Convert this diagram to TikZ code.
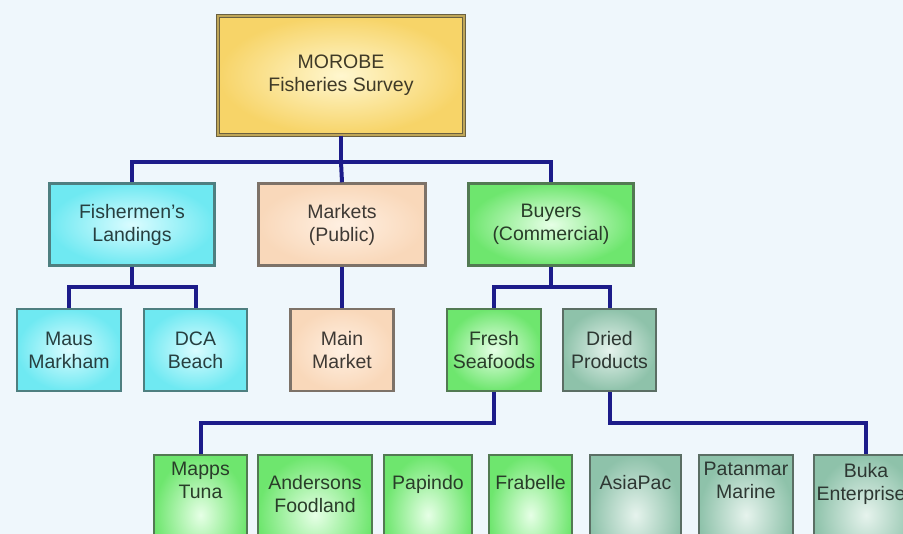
\documentclass[tikz,border=0pt]{standalone}
\usepackage{fontspec}
\setmainfont{Liberation Sans}
\usepackage{tikz}

\definecolor{bgcol}{HTML}{EFF7FC}
\definecolor{buscol}{HTML}{1C1C8A}
\definecolor{yelout}{HTML}{F7D468}
\definecolor{yelin}{HTML}{FFF7CF}
\definecolor{yelline}{HTML}{6A6040}
\definecolor{cyaout}{HTML}{6FE9F2}
\definecolor{cyain}{HTML}{DAFCFF}
\definecolor{cyaline}{HTML}{4E7F80}
\definecolor{peaout}{HTML}{F9D8BA}
\definecolor{peain}{HTML}{FFF0E2}
\definecolor{pealine}{HTML}{7D7268}
\definecolor{greout}{HTML}{6EE66E}
\definecolor{grein}{HTML}{E6FFE6}
\definecolor{greline}{HTML}{527A52}
\definecolor{gryout}{HTML}{8EC2AA}
\definecolor{gryin}{HTML}{E6F3ED}
\definecolor{gryline}{HTML}{5B6E64}

\begin{document}
\begin{tikzpicture}[x=1pt,y=-1pt,
    txt/.style={font=\fontsize{19.5}{23}\selectfont, align=center},
    box/.style={rectangle, txt, line width=2.5pt, inner sep=0pt},
    yelbox/.style={box, draw=yelline, double=yelout!60!yelline, double distance=1.5pt, line width=1.5pt,
        inner color=yelin, outer color=yelout, text=yelline!60!black},
    cyabox/.style={box, draw=cyaline, inner color=cyain, outer color=cyaout, text=cyaline!50!black},
    peabox/.style={box, draw=pealine, inner color=peain, outer color=peaout, text=pealine!50!black},
    grebox/.style={box, draw=greline, inner color=grein, outer color=greout, text=greline!50!black},
    grybox/.style={box, draw=gryline, inner color=gryin, outer color=gryout, text=gryline!50!black},
    lbl/.style={txt, inner sep=0pt, anchor=north},
    bus/.style={draw=buscol, line width=4pt}]

    % background
    \useasboundingbox (0,0) rectangle (903,534);
    \clip (0,0) rectangle (903,534);
    \fill[bgcol] (0,0) rectangle (903,534);

    % top
    \node[yelbox, minimum width=246, minimum height=119] (survey) at (341,75.5) {MOROBE\\Fisheries Survey};

    % level 2
    \node[cyabox, minimum width=165, minimum height=82] (fisher) at (132,224.5) {Fishermen's\\Landings};
    \node[peabox, minimum width=167, minimum height=82] (markets) at (342,224.5) {Markets\\(Public)};
    \node[grebox, minimum width=165, minimum height=82] (buyers) at (551,224.5) {Buyers\\(Commercial)};

    % level 3
    \node[cyabox, minimum width=104, minimum height=82] (maus) at (69,350) {Maus\\Markham};
    \node[cyabox, minimum width=103, minimum height=82] (dca) at (195.5,350) {DCA\\Beach};
    \node[peabox, minimum width=103, minimum height=82] (mainmkt) at (342,350) {Main\\Market};
    \node[grebox, minimum width=94, minimum height=82] (fresh) at (494,350) {Fresh\\Seafoods};
    \node[grybox, minimum width=93, minimum height=82] (dried) at (609.5,350) {Dried\\Products};

    % level 4
    \node[grebox, minimum width=93, minimum height=120] (mapps) at (200.5,515) {};
    \node[grebox, minimum width=114, minimum height=120] (anders) at (315,515) {};
    \node[grebox, minimum width=88, minimum height=120] (papindo) at (428,515) {};
    \node[grebox, minimum width=83, minimum height=120] (frabelle) at (530.5,515) {};
    \node[grybox, minimum width=91, minimum height=120] (asiapac) at (635.5,515) {};
    \node[grybox, minimum width=94, minimum height=120] (patanmar) at (746,515) {};
    \node[grybox, minimum width=104, minimum height=120] (buka) at (866,515) {};

    \node[lbl, text=greline!50!black] (mappsT) at (200.5,462) {Mapps\\Tuna};
    \node[lbl, text=greline!50!black] (andersT) at (315,475) {Andersons\\Foodland};
    \node[lbl, text=greline!50!black] (papindoT) at (428,475) {Papindo};
    \node[lbl, text=greline!50!black] (frabelleT) at (530.5,475) {Frabelle};
    \node[lbl, text=gryline!50!black] (asiapacT) at (635.5,475) {AsiaPac};
    \node[lbl, text=gryline!50!black] (patanmarT) at (746,462) {Patanmar\\Marine};
    \node[lbl, text=gryline!50!black] (bukaT) at (866,463) {Buka\\Enterprises};

    % connectors
    \coordinate (j1) at (341,162);
    \draw[bus] (survey.south) -- (j1);
    \draw[bus] (fisher.north) |- (j1) -| (buyers.north);
    \draw[bus] (j1) -- (markets.north);

    \coordinate (j2) at (132,287);
    \draw[bus] (fisher.south) -- (j2);
    \draw[bus] (maus.north) |- (j2) -| (dca.north);

    \draw[bus] (markets.south) -- (mainmkt.north);

    \coordinate (j3) at (551,287);
    \draw[bus] (buyers.south) -- (j3);
    \draw[bus] (fresh.north) |- (j3) -| (dried.north);

    \coordinate (j4) at (494,423);
    \draw[bus] (fresh.south) -- (j4) -| (mapps.north);

    \coordinate (j5) at (609.5,423);
    \draw[bus] (dried.south) -- (j5) -| (buka.north);
\end{tikzpicture}
\end{document}
